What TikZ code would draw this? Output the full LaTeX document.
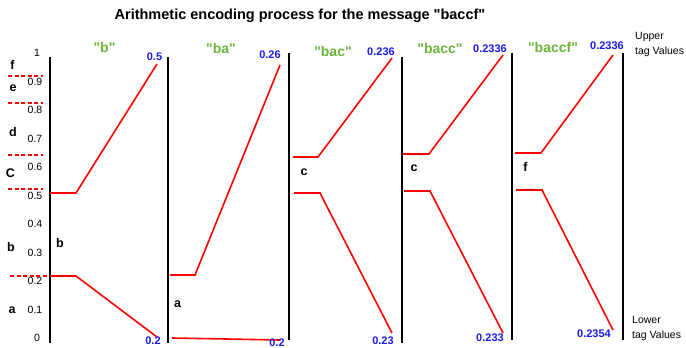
\documentclass[tikz,border=0pt]{standalone}
\usepackage{fontspec}
\setmainfont{Liberation Sans}
\usetikzlibrary{positioning}
\definecolor{tagblue}{RGB}{25,25,235}
\definecolor{msggreen}{RGB}{110,180,60}
\newcommand{\qt}[1]{\textquotedbl#1\textquotedbl}
\tikzset{
    axis/.style={draw=black, line width=2pt},
    tagline/.style={draw=red, line width=1.6pt},
    bound/.style={draw=red, line width=1.2pt, dash pattern=on 4pt off 2.5pt},
    tick/.style={font=\fontsize{10.5}{12}\selectfont, inner sep=0pt},
    sym/.style={font=\fontsize{12.5}{14}\selectfont\bfseries, inner sep=0pt},
    msg/.style={font=\fontsize{14}{16}\selectfont\bfseries, text=msggreen, inner sep=0pt},
    tagval/.style={font=\fontsize{11}{13}\selectfont\bfseries, text=tagblue, inner sep=0pt},
    note/.style={font=\fontsize{10.5}{15.5}\selectfont, align=left, inner sep=0pt, anchor=north west},
}

\begin{document}
\begin{tikzpicture}[x=1pt, y=-1pt]
    \useasboundingbox (0,0) rectangle (686,348);
    \node[font=\fontsize{14.5}{16}\selectfont\bfseries, inner sep=0pt] (title) at (300,16)
        {Arithmetic encoding process for the message \qt{baccf}};

    % scale and symbol intervals
    \foreach \v in {1,...,9}
        \node[tick] (tick\v) at (35,338-28.5*\v) {0.\v};
    \node[tick] (tick0) at (37,338) {0};
    \node[tick] (tick10) at (37,53) {1};
    \foreach \y in {76,103,155,189}
        \draw[bound] (8,\y) -- (43,\y);
    \draw[bound] (10,276) -- (50,276);
    \node[sym] (sf) at (12.5,65) {f};
    \node[sym] (se) at (13,88) {e};
    \node[sym] (sd) at (13,132) {d};
    \node[sym] (sc) at (10.5,173) {C};
    \node[sym] (sb) at (11,247) {b};
    \node[sym] (sa) at (12,310) {a};

    % "b"
    \node[msg] (m1) at (104.5,47) {\qt{b}};
    \draw[axis] (50,57) -- (50,343);
    \draw[tagline] (50,193) -- (76,193) -- (157,64);
    \draw[tagline] (50,276) -- (76,276) -- (157,337);
    \node[tagval] (hi1) at (154.5,57) {0.5};
    \node[tagval] (lo1) at (153,341) {0.2};
    \node[sym] (k1) at (60,243) {b};

    % "ba"
    \node[msg] (m2) at (221,48) {\qt{ba}};
    \draw[axis] (168,57) -- (168,343);
    \draw[tagline] (170,275) -- (195,275) -- (280,65);
    \draw[tagline] (172,338) -- (280,340);
    \node[tagval] (hi2) at (270,55) {0.26};
    \node[tagval] (lo2) at (277,342.5) {0.2};
    \node[sym] (k2) at (177.5,304) {a};

    % "bac"
    \node[msg] (m3) at (333,51) {\qt{bac}};
    \draw[axis] (289,53) -- (289,340);
    \draw[tagline] (293,157) -- (318,157) -- (392,58);
    \draw[tagline] (294,193) -- (320,193) -- (392,333);
    \node[tagval] (hi3) at (381,52) {0.236};
    \node[tagval] (lo3) at (383,341) {0.23};
    \node[sym] (k3) at (304,172) {c};

    % "bacc"
    \node[msg] (m4) at (440,48) {\qt{bacc}};
    \draw[axis] (402,57) -- (402,343);
    \draw[tagline] (403,154) -- (429,154) -- (503,55);
    \draw[tagline] (404,191) -- (430,191) -- (503,333);
    \node[tagval] (hi4) at (490,49) {0.2336};
    \node[tagval] (lo4) at (490,338) {0.233};
    \node[sym] (k4) at (414,168) {c};

    % "baccf"
    \node[msg] (m5) at (553,47) {\qt{baccf}};
    \draw[axis] (512,53) -- (512,340);
    \draw[tagline] (515,153) -- (541,153) -- (613,55);
    \draw[tagline] (516,190) -- (542,190) -- (613,330);
    \node[tagval] (hi5) at (607,46) {0.2336};
    \node[tagval] (lo5) at (594,334) {0.2354};
    \node[sym] (k5) at (525.5,167) {f};

    \draw[axis] (623,53) -- (623,340);
    \node[note] (upper) at (635,32) {Upper\\tag Values};
    \node[note] (lower) at (632,316) {Lower\\tag Values};
\end{tikzpicture}
\end{document}
